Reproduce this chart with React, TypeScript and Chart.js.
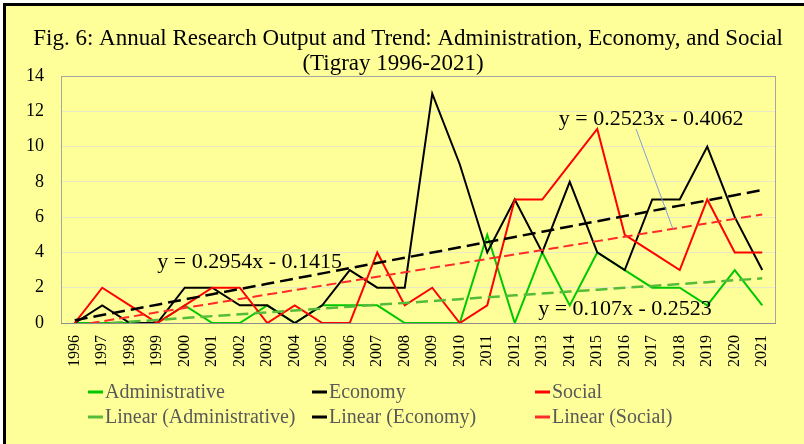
import React, { useEffect, useRef } from "react";
import { Chart, registerables } from "chart.js";

Chart.register(...registerables);

// ---------- data ----------
const years = [
  "1996", "1997", "1998", "1999", "2000", "2001", "2002", "2003", "2004", "2005",
  "2006", "2007", "2008", "2009", "2010", "2011", "2012", "2013", "2014", "2015",
  "2016", "2017", "2018", "2019", "2020", "2021",
];
const administrative = [0, 0, 0, 0, 1, 0, 0, 1, 0, 1, 1, 1, 0, 0, 0, 5, 0, 4, 1, 4, 3, 2, 2, 1, 3, 1];
const economy = [0, 1, 0, 0, 2, 2, 1, 1, 0, 1, 3, 2, 2, 13, 9, 4, 7, 4, 8, 4, 3, 7, 7, 10, 6, 3];
const social = [0, 2, 1, 0, 1, 2, 2, 0, 1, 0, 0, 4, 1, 2, 0, 1, 7, 7, 9, 11, 5, 4, 3, 7, 4, 4];
const yMin = 0;
const yMax = 14;
const yStep = 2;
const titleLines = [
  "Fig. 6: Annual Research Output and Trend: Administration, Economy, and Social",
  "(Tigray 1996-2021)",
];
const seriesNames = ["Administrative", "Economy", "Social"];
const trendNames = ["Linear (Administrative)", "Linear (Economy)", "Linear (Social)"];
const equationAdmin = "y = 0.107x - 0.2523";
const equationEconomy = "y = 0.2954x - 0.1415";
const equationSocial = "y = 0.2523x - 0.4062";

// least-squares trend evaluated at each category (x = 1..n, as in Excel)
function linearTrend(values: number[]): number[] {
  const n = values.length;
  let sx = 0, sy = 0, sxx = 0, sxy = 0;
  values.forEach((v, i) => {
    const x = i + 1;
    sx += x; sy += v; sxx += x * x; sxy += x * v;
  });
  const slope = (n * sxy - sx * sy) / (n * sxx - sx * sx);
  const intercept = (sy - slope * sx) / n;
  return values.map((_, i) => slope * (i + 1) + intercept);
}

// ---------- styles ----------
const SERIF = "'Liberation Serif', 'Times New Roman', serif";
const BG = "#FFFF99";
const C_ADMIN = "#00C800";
const C_ECON = "#000000";
const C_SOC = "#FF0000";
const C_ADMIN_T = "#55BB3A";
const C_ECON_T = "#000000";
const C_SOC_T = "#FF2A2A";

const framePlugin = {
  id: "frame",
  beforeDraw(chart: any) {
    const { ctx, width, height, chartArea } = chart;
    ctx.save();
    ctx.fillStyle = "#FFFFFF";
    ctx.fillRect(0, 0, width, height);
    ctx.fillStyle = BG;
    ctx.fillRect(3, 3, width - 3, height - 3);
    ctx.fillStyle = "#000000";
    ctx.fillRect(3, 3, width - 3, 3);
    ctx.fillRect(3, 3, 3, height - 3);
    // title
    ctx.fillStyle = "#000000";
    ctx.font = `23px ${SERIF}`;
    ctx.textAlign = "center";
    ctx.textBaseline = "alphabetic";
    ctx.fillText(titleLines[0], 408, 45);
    ctx.fillText(titleLines[1], 393, 70);
    ctx.restore();
  },
  beforeDatasetsDraw(chart: any) {
    const { ctx, chartArea } = chart;
    ctx.save();
    ctx.strokeStyle = "#A6A6A6";
    ctx.lineWidth = 1;
    ctx.strokeRect(chartArea.left + 0.5, chartArea.top + 0.5, chartArea.right - chartArea.left - 1, chartArea.bottom - chartArea.top);
    ctx.strokeStyle = "#8C8C8C";
    ctx.beginPath();
    ctx.moveTo(chartArea.left, chartArea.bottom + 0.5);
    ctx.lineTo(chartArea.right, chartArea.bottom + 0.5);
    ctx.stroke();
    ctx.restore();
  },
  afterDraw(chart: any) {
    const { ctx } = chart;
    const xs = chart.scales.x;
    const ys = chart.scales.y;
    ctx.save();
    // equation labels
    ctx.fillStyle = "#000000";
    ctx.font = `22px ${SERIF}`;
    ctx.textAlign = "left";
    ctx.textBaseline = "alphabetic";
    ctx.fillText(equationEconomy, xs.getPixelForValue(3.0), ys.getPixelForValue(3.12));
    ctx.fillText(equationSocial, xs.getPixelForValue(17.6), ys.getPixelForValue(11.22));
    ctx.fillText(equationAdmin, xs.getPixelForValue(16.85), ys.getPixelForValue(0.45));
    // leader line from the social equation to its trend line
    const socT = linearTrend(social);
    const i0 = 21, f = 0.75;
    const tv = socT[i0] + (socT[i0 + 1] - socT[i0]) * f;
    ctx.strokeStyle = "#7F9FD4";
    ctx.lineWidth = 1;
    ctx.beginPath();
    ctx.moveTo(xs.getPixelForValue(20.41), ys.getPixelForValue(11.0));
    ctx.lineTo(xs.getPixelForValue(i0 + f), ys.getPixelForValue(tv));
    ctx.stroke();

    // legend
    const items = [
      { t: seriesNames[0], c: C_ADMIN }, { t: seriesNames[1], c: C_ECON }, { t: seriesNames[2], c: C_SOC },
      { t: trendNames[0], c: C_ADMIN_T }, { t: trendNames[1], c: C_ECON_T }, { t: trendNames[2], c: C_SOC_T },
    ];
    const colX = [88, 312, 535];
    const rowY = [392, 417];
    ctx.font = `20px ${SERIF}`;
    ctx.textBaseline = "middle";
    items.forEach((it, k) => {
      const x = colX[k % 3];
      const y = rowY[Math.floor(k / 3)];
      ctx.strokeStyle = it.c;
      ctx.lineWidth = 3;
      ctx.beginPath();
      ctx.moveTo(x, y);
      ctx.lineTo(x + 15, y);
      ctx.stroke();
      ctx.fillStyle = "#595959";
      ctx.fillText(it.t, x + 17, y + 1);
    });
    ctx.restore();
  },
};

export default function App() {
  const ref = useRef<HTMLCanvasElement>(null);

  useEffect(() => {
    document.body.style.margin = "0";
    const canvas = ref.current;
    if (!canvas) return;
    const chart = new Chart(canvas, {
      type: "line",
      data: {
        labels: years,
        datasets: [
          { label: seriesNames[0], data: administrative, borderColor: C_ADMIN, borderWidth: 2, pointRadius: 0, tension: 0, order: 6 },
          { label: seriesNames[1], data: economy, borderColor: C_ECON, borderWidth: 2, pointRadius: 0, tension: 0, order: 5 },
          { label: seriesNames[2], data: social, borderColor: C_SOC, borderWidth: 2, pointRadius: 0, tension: 0, order: 4 },
          { label: trendNames[0], data: linearTrend(administrative), borderColor: C_ADMIN_T, borderWidth: 2.5, borderDash: [12, 6], pointRadius: 0, tension: 0, order: 3 },
          { label: trendNames[1], data: linearTrend(economy), borderColor: C_ECON_T, borderWidth: 2.5, borderDash: [13, 6], pointRadius: 0, tension: 0, order: 2 },
          { label: trendNames[2], data: linearTrend(social), borderColor: C_SOC_T, borderWidth: 2, borderDash: [10, 5], pointRadius: 0, tension: 0, order: 1 },
        ],
      },
      options: {
        responsive: false,
        animation: false,
        devicePixelRatio: 1,
        layout: { padding: { top: 76, right: 28, left: 0, bottom: 0 } },
        plugins: {
          legend: { display: false },
          title: { display: false },
          tooltip: { enabled: false },
        },
        scales: {
          x: {
            offset: true,
            grid: { display: false, drawTicks: false },
            border: { display: false },
            ticks: {
              autoSkip: false,
              maxRotation: 90,
              minRotation: 90,
              padding: 12,
              color: "#000000",
              font: { family: SERIF, size: 16 },
            },
            afterFit: (s: any) => { s.height = 121; },
          },
          y: {
            min: yMin,
            max: yMax,
            ticks: {
              stepSize: yStep,
              padding: 17,
              color: "#000000",
              font: { family: SERIF, size: 18 },
            },
            grid: { color: "#E9E9C6", lineWidth: 1, drawTicks: false },
            border: { display: false },
            afterFit: (s: any) => { s.width = 61; },
          },
        },
      },
      plugins: [framePlugin],
    });
    return () => chart.destroy();
  }, []);

  return (
    <div style={{ position: "absolute", left: 0, top: 0, width: 804, height: 444 }}>
      <canvas ref={ref} width={804} height={444} style={{ display: "block", width: 804, height: 444 }} />
    </div>
  );
}
